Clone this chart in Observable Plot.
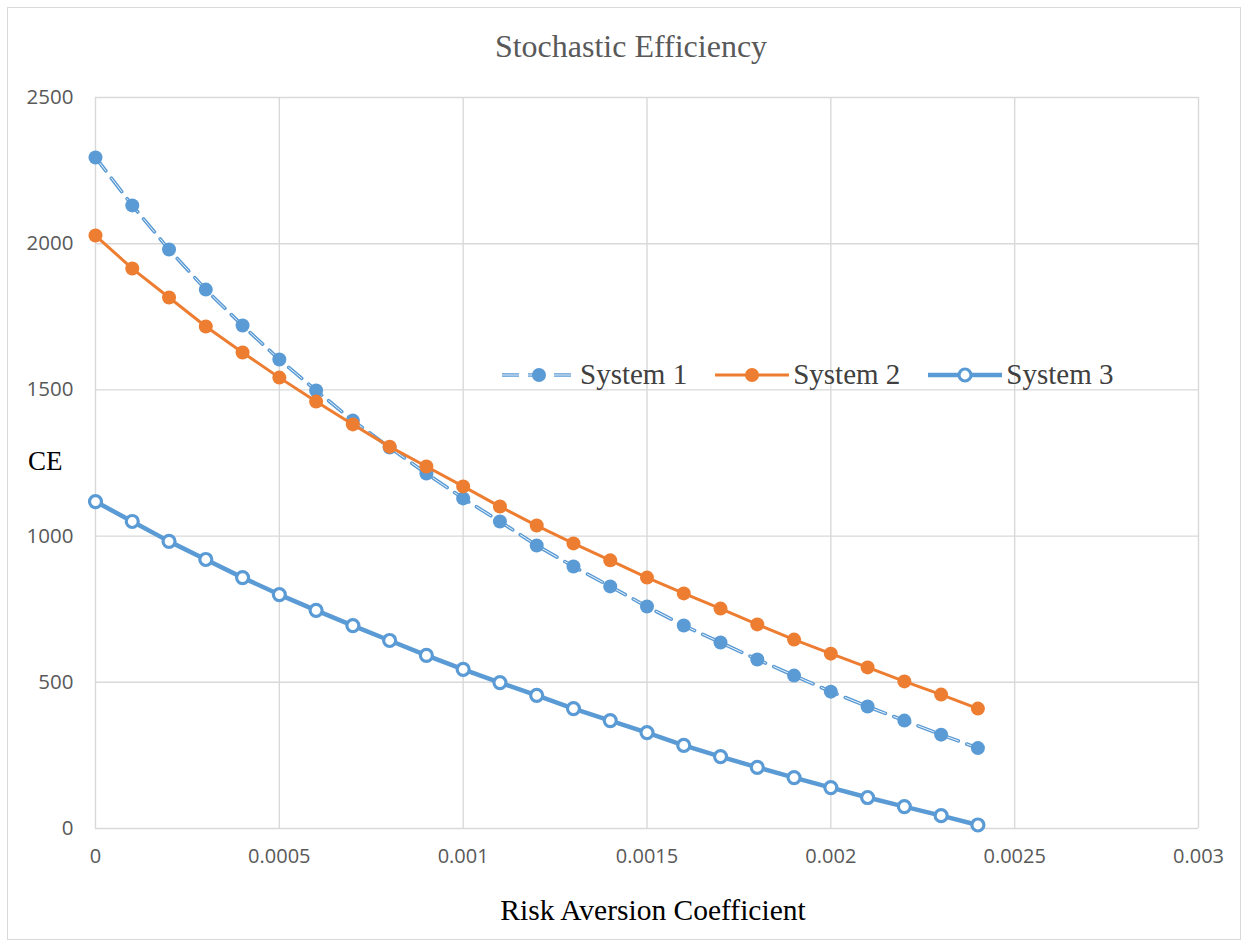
<!DOCTYPE html>
<html>
<head>
<meta charset="utf-8">
<script src="https://cdn.jsdelivr.net/npm/d3@7"></script>
<script src="https://cdn.jsdelivr.net/npm/@observablehq/plot@0.6"></script>
<style>
  body { margin: 0; background: #fff; }
  #wrap { position: relative; width: 1250px; height: 949px; }
  #frame { position: absolute; left: 7px; top: 7px; width: 1234px; height: 933px; border: 1px solid #D9D9D9; box-sizing: border-box; }
  .lbl { position: absolute; font-family: "Liberation Serif", "Times New Roman", serif; white-space: nowrap; line-height: 1.15; }
  #title { left: 0; width: 1262px; top: 28px; text-align: center; font-size: 32px; color: #595959; }
  #ylab { left: 28px; top: 446px; font-size: 27px; color: #000; }
  #xlab { left: 0; width: 1306px; top: 894px; text-align: center; font-size: 29.5px; color: #000; }
  #legend { position: absolute; left: 500px; top: 358px; display: flex; align-items: center; font-family: "Liberation Serif", "Times New Roman", serif; font-size: 29px; color: #404040; line-height: 1.15; }
  #legend .item { display: flex; align-items: center; margin-right: 26px; }
  #legend svg { display: block; }
  #chart { position: absolute; left: 0; top: 0; }
</style>
</head>
<body>
<div id="wrap">
  <div id="frame"></div>
  <div id="chart"></div>
  <div id="title" class="lbl">Stochastic Efficiency</div>
  <div id="ylab" class="lbl">CE</div>
  <div id="xlab" class="lbl">Risk Aversion Coefficient</div>
  <div id="legend"></div>
</div>
<script>
// ---- data ----
const riskAversion = [0, 0.0001, 0.0002, 0.0003, 0.0004, 0.0005, 0.0006, 0.0007, 0.0008, 0.0009,
  0.0010, 0.0011, 0.0012, 0.0013, 0.0014, 0.0015, 0.0016, 0.0017, 0.0018, 0.0019,
  0.0020, 0.0021, 0.0022, 0.0023, 0.0024];
const system1 = [2295, 2131, 1980, 1843, 1720, 1604, 1498, 1395, 1303, 1214,
  1129, 1050, 968, 896, 828, 759, 694, 636, 578, 523,
  468, 417, 369, 321, 275];
const system2 = [2028, 1915, 1816, 1717, 1628, 1542, 1460, 1382, 1306, 1238,
  1170, 1101, 1036, 975, 917, 858, 804, 752, 698, 646,
  598, 551, 503, 458, 410];
const system3 = [1118, 1050, 982, 920, 858, 800, 746, 694, 643, 592,
  544, 499, 455, 410, 369, 328, 284, 246, 209, 174,
  140, 106, 75, 44, 12];
const seriesNames = ["System 1", "System 2", "System 3"];
const xTicks = [0, 0.0005, 0.001, 0.0015, 0.002, 0.0025, 0.003];
const xTickLabels = ["0", "0.0005", "0.001", "0.0015", "0.002", "0.0025", "0.003"];
const yTicks = [0, 500, 1000, 1500, 2000, 2500];
const yTickLabels = ["0", "500", "1000", "1500", "2000", "2500"];

const blue = "#5B9BD5", orange = "#ED7D31", grid = "#D9D9D9";

const s1 = riskAversion.map((x, i) => ({x, y: system1[i]}));
const s2 = riskAversion.map((x, i) => ({x, y: system2[i]}));
const s3 = riskAversion.map((x, i) => ({x, y: system3[i]}));

const chart = Plot.plot({
  width: 1250,
  height: 949,
  marginLeft: 95,
  marginRight: 52,
  marginTop: 97,
  marginBottom: 121,
  x: {domain: [0, 0.003], label: null},
  y: {domain: [0, 2500], label: null},
  style: {background: "transparent", fontFamily: "'Open Sans', 'Liberation Sans', sans-serif"},
  marks: [
    Plot.gridX(xTicks, {stroke: grid, strokeOpacity: 1, strokeWidth: 1.4}),
    Plot.gridY(yTicks, {stroke: grid, strokeOpacity: 1, strokeWidth: 1.4}),
    Plot.axisY(yTicks, {tickSize: 0, tickPadding: 22, fontSize: 20.5, fill: "#595959",
      tickFormat: (d, i) => yTickLabels[i], label: null}),
    Plot.axisX(xTicks, {tickSize: 0, tickPadding: 20, fontSize: 20, fill: "#595959",
      tickFormat: (d, i) => xTickLabels[i], label: null}),
    // System 1: dashed double line
    Plot.line(s1, {x: "x", y: "y", stroke: blue, strokeWidth: 3.6, strokeDasharray: "17,9"}),
    Plot.line(s1, {x: "x", y: "y", stroke: "#fff", strokeWidth: 0.9, strokeDasharray: "17,9"}),
    Plot.dot(s1, {x: "x", y: "y", r: 7, fill: blue, stroke: "none"}),
    // System 2
    Plot.line(s2, {x: "x", y: "y", stroke: orange, strokeWidth: 3}),
    Plot.dot(s2, {x: "x", y: "y", r: 7, fill: orange, stroke: "none"}),
    // System 3
    Plot.line(s3, {x: "x", y: "y", stroke: blue, strokeWidth: 4.5}),
    Plot.dot(s3, {x: "x", y: "y", r: 6, fill: "#fff", stroke: blue, strokeWidth: 3.2})
  ]
});
document.getElementById("chart").appendChild(chart);

// legend
const legend = document.getElementById("legend");
const swatches = [
  `<svg width="78" height="20"><line x1="2" y1="10" x2="76" y2="10" stroke="${blue}" stroke-width="3.6" stroke-dasharray="17,9"/><line x1="2" y1="10" x2="76" y2="10" stroke="#fff" stroke-width="0.9" stroke-dasharray="17,9"/><circle cx="39" cy="10" r="7" fill="${blue}"/></svg>`,
  `<svg width="78" height="20"><line x1="2" y1="10" x2="76" y2="10" stroke="${orange}" stroke-width="3"/><circle cx="39" cy="10" r="7" fill="${orange}"/></svg>`,
  `<svg width="78" height="20"><line x1="2" y1="10" x2="76" y2="10" stroke="${blue}" stroke-width="4.5"/><circle cx="39" cy="10" r="6" fill="#fff" stroke="${blue}" stroke-width="3.2"/></svg>`
];
seriesNames.forEach((name, i) => {
  const item = document.createElement("div");
  item.className = "item";
  item.innerHTML = swatches[i] + `<span style="margin-left:2px">${name}</span>`;
  legend.appendChild(item);
});
</script>
</body>
</html>
